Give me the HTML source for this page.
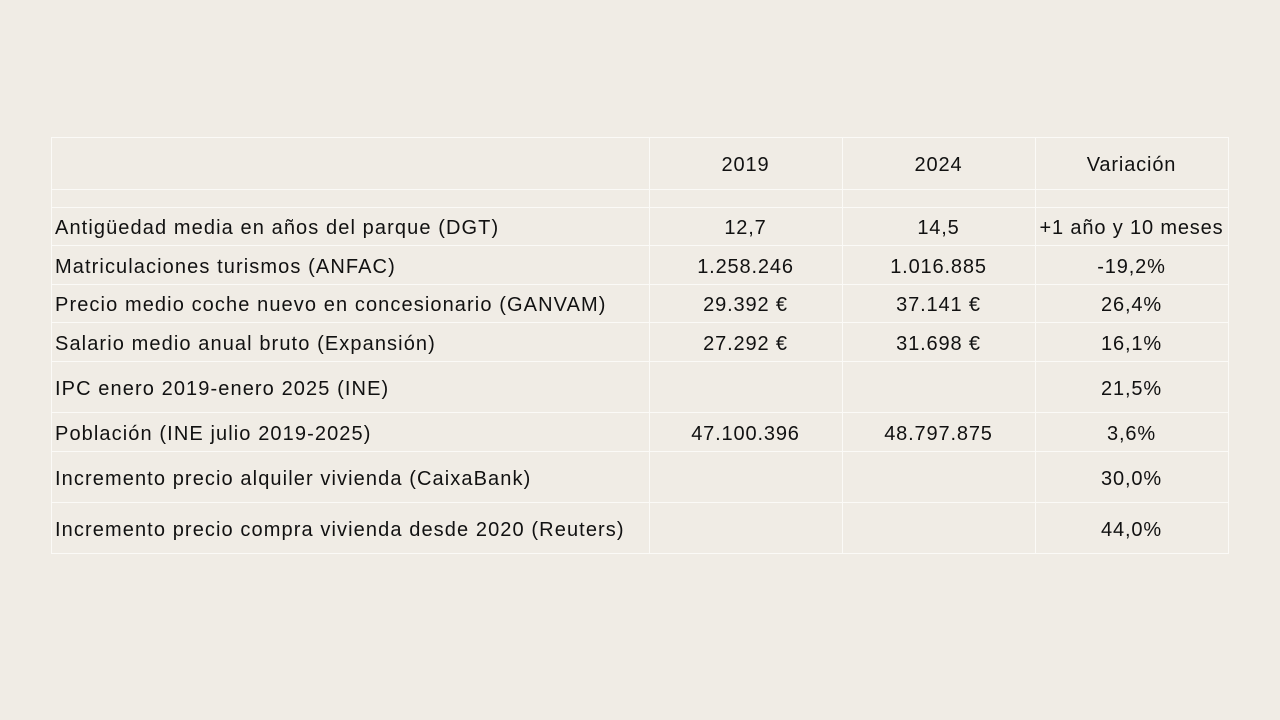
<!DOCTYPE html>
<html><head><meta charset="utf-8"><style>
body{margin:0;width:1280px;height:720px;background:#f0ece5;font-family:"Liberation Sans",sans-serif;overflow:hidden;position:relative}
.h{position:absolute;left:51px;width:1178px;height:1px;background:#fbfaf7}
.v{position:absolute;top:137px;height:417px;width:1px;background:#fbfaf7}
.c{position:absolute;font-size:20px;color:#111;line-height:20px;white-space:nowrap}
.l{left:55px;letter-spacing:1.1px}
.n{text-align:center;width:193px;letter-spacing:0.85px}
</style></head><body>
<div id="t"></div>
<script>
const rowsY=[137,189,207,245,284,322,361,412,451,502,553];
const colsX=[51,649,842,1035,1228];
const header=["","2019","2024","Variación"];
const labels=["Antigüedad media en años del parque (DGT)","Matriculaciones turismos (ANFAC)","Precio medio coche nuevo en concesionario (GANVAM)","Salario medio anual bruto (Expansión)","IPC enero 2019-enero 2025 (INE)","Población (INE julio 2019-2025)","Incremento precio alquiler vivienda (CaixaBank)","Incremento precio compra vivienda desde 2020 (Reuters)"];
const v2019=["12,7","1.258.246","29.392 €","27.292 €","","47.100.396","",""];
const v2024=["14,5","1.016.885","37.141 €","31.698 €","","48.797.875","",""];
const varia=["+1 año y 10 meses","-19,2%","26,4%","16,1%","21,5%","3,6%","30,0%","44,0%"];
const t=document.getElementById('t');
rowsY.forEach(y=>{const d=document.createElement('div');d.className='h';d.style.top=y+'px';


t.appendChild(d);});
colsX.forEach(x=>{const d=document.createElement('div');d.className='v';d.style.left=x+'px';


t.appendChild(d);});
function cell(txt,x,yc,cls,name){const d=document.createElement('div');d.className='c '+cls;d.textContent=txt;
if(cls==='n')d.style.left=x+'px';d.style.top=(yc-8)+'px';


t.appendChild(d);}
for(let j=1;j<4;j++)cell(header[j],colsX[j],(rowsY[0]+rowsY[1])/2,'n','header-cell');
labels.forEach((lab,i)=>{const yc=(rowsY[i+2]+rowsY[i+3])/2;
cell(lab,0,yc,'l','row-label');
cell(v2019[i],colsX[1],yc,'n','value-2019');
cell(v2024[i],colsX[2],yc,'n','value-2024');
cell(varia[i],colsX[3],yc,'n','value-variation');});
</script>
</body></html>
